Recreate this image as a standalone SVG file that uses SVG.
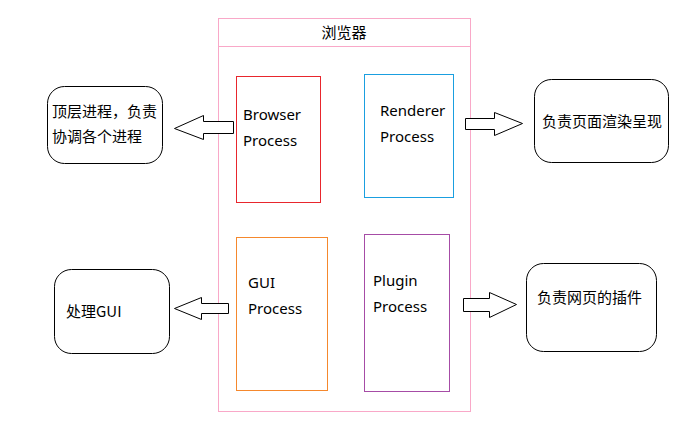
<svg xmlns="http://www.w3.org/2000/svg" width="700" height="428" viewBox="0 0 700 428">
<style>
text{font-family:"Noto Sans","Noto Sans CJK SC",sans-serif;font-size:15px;fill:#000}
.cjk{font-family:"Noto Sans CJK SC","Noto Sans",sans-serif}
.proc{fill:#fff;stroke-width:1}
.note{fill:#fff;stroke:#000;stroke-width:1}
.arrow{fill:#fff;stroke:#000;stroke-width:1}
</style>
<rect width="700" height="428" fill="#fff"/>
<g id="browser">
<rect x="218.5" y="18.5" width="252" height="393" fill="#fff" stroke="#f9a8c8"/>
<line x1="218.5" y1="46.5" x2="470.5" y2="46.5" stroke="#f9a8c8"/>
<text class="cjk" x="344" y="38" text-anchor="middle">浏览器</text>
</g>
<g id="browser-process">
<rect class="proc" x="236.5" y="76.5" width="84" height="126" stroke="#e8262d"/>
<text x="243" y="120">Browser</text>
<text x="243" y="146">Process</text>
</g>
<g id="renderer-process">
<rect class="proc" x="364.5" y="74.5" width="89" height="123" stroke="#1a9fe0"/>
<text x="380" y="116">Renderer</text>
<text x="380" y="142">Process</text>
</g>
<g id="gui-process">
<rect class="proc" x="236.5" y="237.5" width="91" height="153" stroke="#f5882d"/>
<text x="248" y="288">GUI</text>
<text x="248" y="314">Process</text>
</g>
<g id="plugin-process">
<rect class="proc" x="364.5" y="234.5" width="85" height="157" stroke="#a64ca6"/>
<text x="373" y="286">Plugin</text>
<text x="373" y="312">Process</text>
</g>
<g id="note-browser">
<rect class="note" x="47.5" y="86.5" width="115" height="77" rx="17"/>
<text class="cjk" x="52" y="117">顶层进程，负责</text>
<text class="cjk" x="52" y="142">协调各个进程</text>
</g>
<g id="note-renderer">
<rect class="note" x="534.5" y="79.5" width="134" height="83" rx="17"/>
<text class="cjk" x="542" y="127">负责页面渲染呈现</text>
</g>
<g id="note-gui">
<rect class="note" x="54.5" y="269.5" width="115" height="84" rx="17"/>
<text class="cjk" x="66" y="317">处理GUI</text>
</g>
<g id="note-plugin">
<rect class="note" x="526.5" y="263.5" width="130" height="88" rx="17"/>
<text class="cjk" x="537" y="303">负责网页的插件</text>
</g>
<g id="connectors">
<polygon class="arrow" points="233.5,121.5 203.5,121.5 203.5,115.5 174.5,128.5 203.5,139.5 203.5,133.5 233.5,133.5"/>
<polygon class="arrow" points="465.5,118.5 494.5,118.5 494.5,112.5 522.5,123.5 494.5,135.5 494.5,129.5 465.5,129.5"/>
<polygon class="arrow" points="228.5,303.5 201.5,303.5 201.5,297.5 174.5,308.5 201.5,319.5 201.5,313.5 228.5,313.5"/>
<polygon class="arrow" points="463.5,298.5 489.5,298.5 489.5,292.5 516.5,304.5 489.5,317.5 489.5,311.5 463.5,311.5"/>
</g>
</svg>
